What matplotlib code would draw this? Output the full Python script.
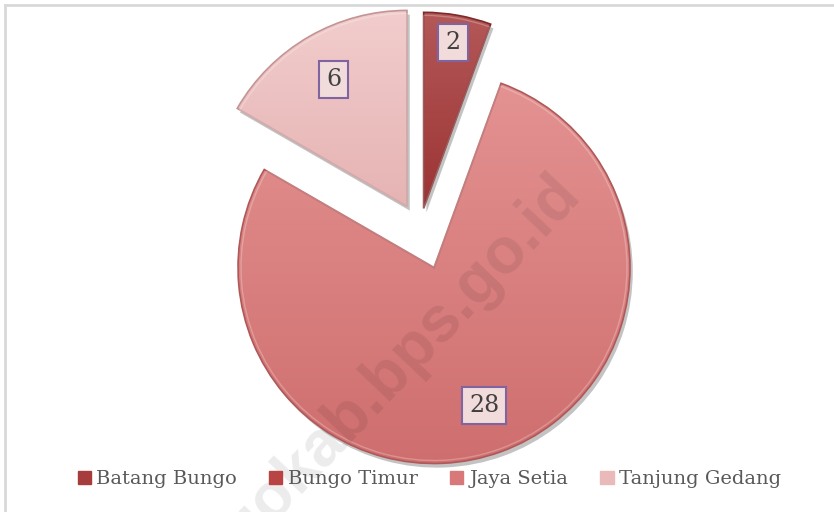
"""Pie chart: jumlah per desa (Batang Bungo, Bungo Timur, Jaya Setia, Tanjung Gedang)."""

import matplotlib

matplotlib.use("Agg")
import matplotlib.pyplot as plt
import matplotlib.patheffects as pe
import numpy as np
from matplotlib.colors import LinearSegmentedColormap
from matplotlib.patches import Patch, Wedge

# Data
categories = ["Batang Bungo", "Bungo Timur", "Jaya Setia", "Tanjung Gedang"]
values = [2, 0, 28, 6]

# Styling
top_colors = ["#B45858", "#C25252", "#E49292", "#F2CDCD"]
bottom_colors = ["#9C3434", "#AE3E3E", "#CF6E6E", "#E6B3B3"]
edge_colors = ["#7E2A2A", "#8E3030", "#B05858", "#C49494"]
legend_colors = ["#A63C3C", "#B84444", "#D87878", "#EAB9B9"]
explode_frac = [0.107, 0.0, 0.209, 0.133]
label_dist = [0.86, 0.8, 0.75, 0.75]

W, H = 834, 512
fig = plt.figure(figsize=(W / 100, H / 100), dpi=100)
ax = fig.add_axes([0, 0, 1, 1])

# chart border (top/left visible)
ax.plot([5, W], [H - 5, H - 5], color="#d9d9d9", lw=2, zorder=1)
ax.plot([5, 5], [0, H - 5], color="#d9d9d9", lw=2, zorder=1)

center = (420, H - 229)
radius = 196
wedges, _ = ax.pie(
    values,
    explode=[e * radius for e in explode_frac],
    startangle=90,
    counterclock=False,
    center=center,
    radius=radius,
    frame=True,
    wedgeprops={"linewidth": 0},
)

for i, w in enumerate(wedges):
    if values[i] == 0:
        w.set_visible(False)
        continue
    w.set_facecolor(bottom_colors[i])
    w.set_zorder(2)
    w.set_path_effects(
        [pe.SimplePatchShadow(offset=(2, -3), shadow_rgbFace="#555555", alpha=0.35), pe.Normal()]
    )
    # vertical gradient clipped to the wedge
    bb = w.get_path().get_extents(w.get_patch_transform())
    cmap = LinearSegmentedColormap.from_list("g", [bottom_colors[i], top_colors[i]])
    grad = np.linspace(0, 1, 256).reshape(-1, 1)
    im = ax.imshow(
        grad,
        cmap=cmap,
        extent=[bb.x0, bb.x1, bb.y0, bb.y1],
        origin="lower",
        aspect="auto",
        zorder=3,
    )
    im.set_clip_path(w)

    # bevel outline
    ax.add_patch(
        Wedge(w.center, w.r, w.theta1, w.theta2, facecolor="none",
              edgecolor=edge_colors[i], linewidth=1.2, zorder=4)
    )
    ax.add_patch(
        Wedge(w.center, w.r - 3, w.theta1, w.theta2, facecolor="none",
              edgecolor="white", linewidth=1.0, alpha=0.25, zorder=4)
    )

    # data label
    mid = np.deg2rad((w.theta1 + w.theta2) / 2)
    cx, cy = w.center
    lx = cx + label_dist[i] * w.r * np.cos(mid)
    ly = cy + label_dist[i] * w.r * np.sin(mid)
    ax.text(
        lx,
        ly,
        str(values[i]),
        ha="center",
        va="center",
        fontsize=17,
        family="DejaVu Serif",
        color="#404040",
        zorder=6,
        bbox=dict(boxstyle="square,pad=0.3", facecolor="#F2DCDB", edgecolor="#8064A2", linewidth=1.5),
    )

ax.set_xlim(0, W)
ax.set_ylim(0, H)
ax.set_aspect("equal")
ax.axis("off")

# watermark
ax.text(
    361,
    H - 403,
    "bungokab.bps.go.id",
    rotation=46.5,
    ha="center",
    va="center",
    fontsize=46,
    fontweight="bold",
    family="Liberation Sans",
    color="black",
    alpha=0.08,
    zorder=7,
)

handles = [Patch(facecolor=c, edgecolor=c) for c in legend_colors]
fig.legend(
    handles,
    categories,
    loc="center",
    bbox_to_anchor=(0.515, 1 - 479 / H),
    ncol=4,
    frameon=False,
    prop={"family": "DejaVu Serif", "size": 14},
    labelcolor="#595959",
    handlelength=0.67,
    handleheight=0.67,
    handletextpad=0.3,
    columnspacing=1.66,
)

fig.savefig("out.png", dpi=100)
